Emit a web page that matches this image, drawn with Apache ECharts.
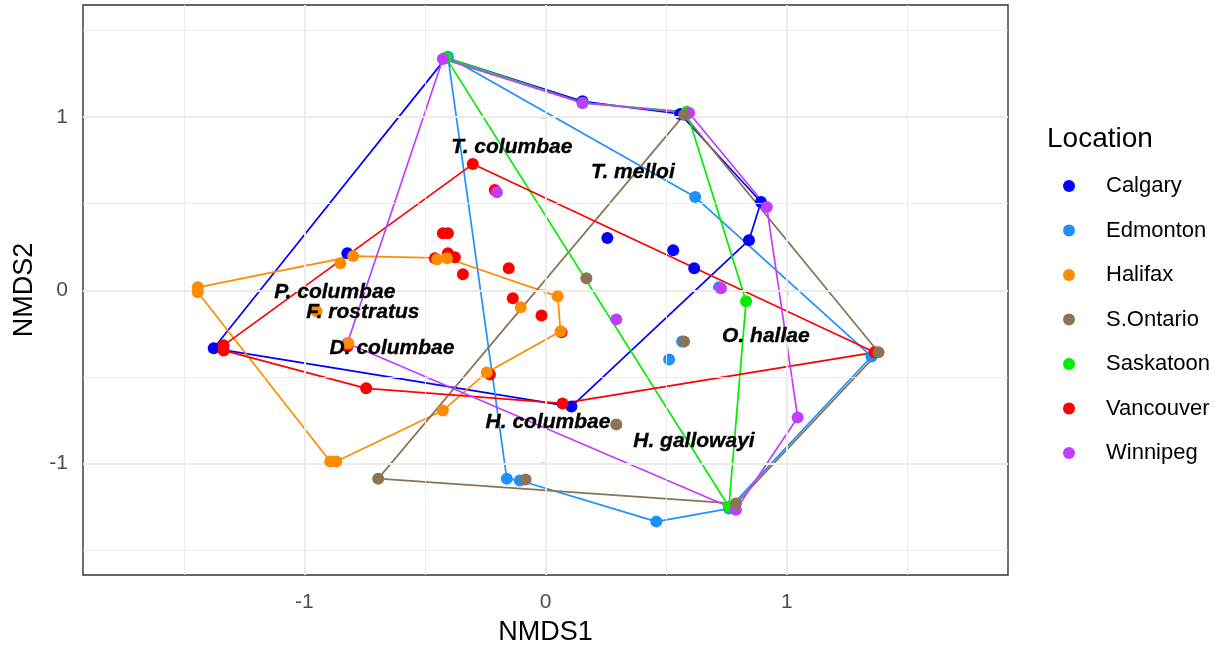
<!DOCTYPE html>
<html>
<head>
<meta charset="utf-8">
<script src="https://cdn.jsdelivr.net/npm/echarts@6/dist/echarts.min.js"></script>
<style>
  html, body { margin: 0; padding: 0; background: #ffffff; }
  #chart { width: 1224px; height: 646px; }
</style>
</head>
<body>
<div id="chart"></div>
<script>
// NMDS site scores per location: [NMDS1, NMDS2]
const calgaryPts = [
  [-0.413, 1.341], [0.153, 1.090], [0.558, 1.017], [0.893, 0.509], [0.843, 0.289],
  [0.256, 0.301], [0.529, 0.231], [0.616, 0.127], [-0.822, 0.214], [-1.376, -0.335],
  [0.107, -0.671]
];
const edmontonPts = [
  [-0.405, 1.347], [0.620, 0.538], [1.351, -0.382], [0.719, 0.017], [0.566, -0.295],
  [0.512, -0.399], [-0.161, -1.087], [-0.107, -1.098], [0.459, -1.335], [0.760, -1.260]
];
const halifaxPts = [
  [-1.442, 0.017], [-1.442, -0.012], [-0.851, 0.156], [-0.798, 0.197], [-0.950, -0.121],
  [-0.818, -0.306], [-0.893, -0.988], [-0.868, -0.988], [-0.426, -0.694], [-0.244, -0.474],
  [0.062, -0.237], [0.050, -0.035], [-0.103, -0.098], [-0.450, 0.179], [-0.409, 0.185]
];
const ontarioPts = [
  [0.574, 1.012], [0.169, 0.069], [0.574, -0.295], [0.293, -0.775], [-0.083, -1.092],
  [-0.694, -1.087], [1.380, -0.358], [0.789, -1.231]
];
const saskatoonPts = [
  [-0.413, 1.341], [0.153, 1.081], [0.585, 1.030], [0.831, -0.064], [0.760, -1.249]
];
const vancouverPts = [
  [-0.302, 0.728], [-0.211, 0.578], [-0.426, 0.329], [-0.405, 0.329], [-0.459, 0.185],
  [-0.405, 0.214], [-0.376, 0.191], [-0.343, 0.092], [-0.153, 0.127], [-0.136, -0.046],
  [-0.017, -0.145], [0.066, -0.243], [-0.231, -0.486], [0.070, -0.653], [-0.744, -0.566],
  [-1.335, -0.318], [-1.335, -0.347], [-0.822, -0.324], [1.364, -0.358]
];
const winnipegPts = [
  [-0.426, 1.335], [0.153, 1.081], [0.595, 1.023], [0.917, 0.480], [1.045, -0.734],
  [0.789, -1.266], [-0.822, -0.306], [-0.202, 0.566], [0.293, -0.168], [0.727, 0.012]
];

// Outline vertices of each location's envelope (indices into the point lists)
const calgaryHull = [0, 1, 2, 3, 4, 10, 9];
const edmontonHull = [0, 1, 2, 9, 8, 7, 6];
const halifaxHull = [0, 3, 14, 11, 10, 9, 8, 7, 6, 1];
const ontarioHull = [0, 6, 7, 5];
const saskatoonHull = [0, 1, 2, 3, 4];
const vancouverHull = [0, 18, 13, 14, 16, 15];
const winnipegHull = [0, 1, 2, 3, 4, 5, 6];

// Species scores
const speciesNames = ['T. columbae', 'T. melloi', 'P. columbae', 'F. rostratus', 'D. columbae', 'O. hallae', 'H. columbae', 'H. gallowayi'];
const speciesX = [-0.140, 0.362, -0.874, -0.758, -0.637, 0.913, 0.010, 0.615];
const speciesY = [0.825, 0.681, -0.010, -0.126, -0.333, -0.264, -0.760, -0.870];

const locations = ['Calgary', 'Edmonton', 'Halifax', 'S.Ontario', 'Saskatoon', 'Vancouver', 'Winnipeg'];
const locationColors = ['#0000FF', '#1E90FF', '#FF8C00', '#8B7355', '#00EE00', '#FF0000', '#BF3EFF'];
const locationPoints = [calgaryPts, edmontonPts, halifaxPts, ontarioPts, saskatoonPts, vancouverPts, winnipegPts];
const locationHulls = [calgaryHull, edmontonHull, halifaxHull, ontarioHull, saskatoonHull, vancouverHull, winnipegHull];
// stacking order of the point layers (later = on top)
const pointStack = ['Calgary', 'Edmonton', 'Saskatoon', 'Vancouver', 'Winnipeg', 'Halifax', 'S.Ontario'];

const tickValues = [-1, 0, 1];
const majorGrid = [-1, 0, 1];
const minorGrid = [-1.5, -0.5, 0.5, 1.5];

const FONT = '"Liberation Sans", Arial, sans-serif';
const GRID_COLOR = '#EBEBEB';

const gridLines = [];
minorGrid.forEach(v => {
  gridLines.push({ xAxis: v, lineStyle: { color: GRID_COLOR, width: 0.9, type: 'solid' } });
  gridLines.push({ yAxis: v, lineStyle: { color: GRID_COLOR, width: 0.9, type: 'solid' } });
});
majorGrid.forEach(v => {
  gridLines.push({ xAxis: v, lineStyle: { color: GRID_COLOR, width: 1.8, type: 'solid' } });
  gridLines.push({ yAxis: v, lineStyle: { color: GRID_COLOR, width: 1.8, type: 'solid' } });
});

const series = [];

// panel grid lines
series.push({
  type: 'line',
  name: 'grid',
  data: [],
  silent: true,
  z: 0,
  markLine: {
    silent: true,
    symbol: ['none', 'none'],
    label: { show: false },
    animation: false,
    data: gridLines
  }
});

// envelope outlines
locations.forEach((name, i) => {
  const pts = locationPoints[i];
  const ring = locationHulls[i].map(k => pts[k]);
  ring.push(ring[0]);
  series.push({
    type: 'line',
    name: name + ' outline',
    data: ring,
    showSymbol: false,
    symbol: 'none',
    silent: true,
    z: 2,
    lineStyle: { color: locationColors[i], width: 1.7 },
    itemStyle: { color: locationColors[i] }
  });
});

// site points
locations.forEach((name, i) => {
  series.push({
    type: 'scatter',
    name: name,
    data: locationPoints[i],
    symbol: 'circle',
    symbolSize: 12,
    z: 3 + pointStack.indexOf(name),
    itemStyle: { color: locationColors[i], opacity: 1 }
  });
});

// species labels
series.push({
  type: 'scatter',
  name: 'species',
  data: speciesNames.map((n, i) => ({ name: n, value: [speciesX[i], speciesY[i]] })),
  symbol: 'circle',
  symbolSize: 1,
  silent: true,
  z: 20,
  itemStyle: { color: 'rgba(0,0,0,0)' },
  label: {
    show: true,
    position: 'inside',
    formatter: p => p.name,
    color: '#000000',
    opacity: 1,
    fontFamily: FONT,
    fontSize: 21,
    fontWeight: 'bold',
    fontStyle: 'italic',
    textBorderColor: '#000000',
    textBorderWidth: 0.35
  },
  labelLayout: { hideOverlap: false }
});

const chart = echarts.init(document.getElementById('chart'), null, { renderer: 'canvas' });
chart.setOption({
  animation: false,
  backgroundColor: '#ffffff',
  textStyle: { fontFamily: FONT },
  grid: {
    left: 83, top: 5, width: 925, height: 570,
    show: true,
    borderColor: '#333333',
    borderWidth: 1.4,
    backgroundColor: 'transparent',
    containLabel: false,
    outerBoundsMode: 'none'
  },
  xAxis: {
    type: 'value',
    min: -1.918,
    max: 1.917,
    name: 'NMDS1',
    nameLocation: 'middle',
    nameGap: 44,
    nameTextStyle: { color: '#000000', fontSize: 27, fontFamily: FONT },
    axisLine: { show: false },
    axisTick: { show: true, customValues: tickValues, length: 5, lineStyle: { color: '#333333', width: 1.4 } },
    axisLabel: { show: true, customValues: tickValues, color: '#4D4D4D', fontSize: 21, margin: 17, fontFamily: FONT },
    splitLine: { show: false }
  },
  yAxis: {
    type: 'value',
    min: -1.643,
    max: 1.646,
    name: 'NMDS2',
    nameLocation: 'middle',
    nameGap: 38,
    nameRotate: 90,
    nameTextStyle: { color: '#000000', fontSize: 27, fontFamily: FONT },
    axisLine: { show: false },
    axisTick: { show: true, customValues: tickValues, length: 5, lineStyle: { color: '#333333', width: 1.4 } },
    axisLabel: { show: true, customValues: tickValues, color: '#4D4D4D', fontSize: 21, margin: 15, fontFamily: FONT },
    splitLine: { show: false }
  },
  legend: {
    orient: 'vertical',
    left: 1063,
    top: 174,
    padding: 0,
    itemWidth: 12,
    itemHeight: 12,
    itemGap: 20.5,
    selectedMode: false,
    data: locations.map(n => ({ name: n, icon: 'circle' })),
    textStyle: { color: '#000000', fontSize: 22, lineHeight: 24, fontFamily: FONT, padding: [0, 0, 0, 26] }
  },
  graphic: [{
    type: 'text',
    left: 1047,
    top: 125,
    style: { text: 'Location', fill: '#000000', font: '28px "Liberation Sans", Arial, sans-serif' }
  }],
  series: series
});
</script>
</body>
</html>
